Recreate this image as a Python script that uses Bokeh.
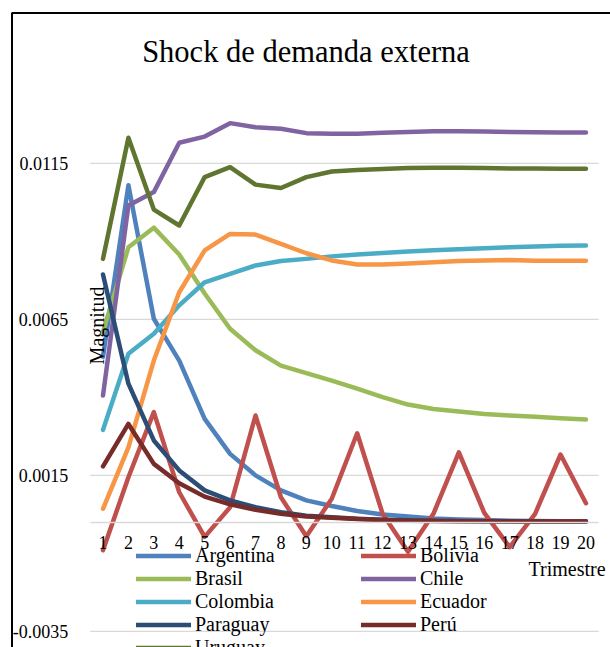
from math import pi

from bokeh.plotting import figure
from bokeh.models import (FixedTicker, Legend, LegendItem, Label, BoxAnnotation,
                          Range1d, PrintfTickFormatter)
from bokeh.embed import file_html
from bokeh.resources import INLINE

# Impulse responses to an external demand shock, by quarter
trimestres = list(range(1, 21))

argentina = [0.0053, 0.0108, 0.00652, 0.00518, 0.00331, 0.00219, 0.0015, 0.00102, 0.0007, 0.00052,
             0.00036, 0.00025, 0.00018, 0.00012, 0.00009, 0.00007, 0.00005, 0.00004, 0.00003, 0.00003]
bolivia = [-0.0009, 0.00144, 0.00353, 0.00096, -0.00047, 0.00048, 0.00342, 0.0008, -0.00045, 0.00075,
           0.00285, 0.00027, -0.00095, 0.00027, 0.00224, 0.0003, -0.0008, 0.00027, 0.00217, 0.00061]
brasil = [0.0061, 0.00881, 0.00944, 0.00858, 0.00733, 0.0062, 0.00551, 0.00502, 0.00478, 0.00454,
          0.00428, 0.00401, 0.00377, 0.00363, 0.00355, 0.00347, 0.00342, 0.00338, 0.00333, 0.00329]
chile = [0.00406, 0.01015, 0.01058, 0.01216, 0.01236, 0.01279, 0.01266, 0.01261, 0.01247, 0.01245,
         0.01245, 0.01248, 0.01251, 0.01253, 0.01253, 0.01252, 0.01251, 0.0125, 0.01249, 0.01249]
colombia = [0.00296, 0.0054, 0.00604, 0.00695, 0.00769, 0.00796, 0.00823, 0.00837, 0.00844, 0.00852,
            0.00858, 0.00863, 0.00868, 0.00872, 0.00875, 0.00878, 0.00881, 0.00884, 0.00886, 0.00887]
ecuador = [0.00043, 0.0024, 0.00518, 0.00737, 0.00871, 0.00924, 0.00922, 0.00892, 0.00862, 0.00839,
           0.00826, 0.00826, 0.00829, 0.00833, 0.00837, 0.00839, 0.0084, 0.00838, 0.00838, 0.00838]
paraguay = [0.00794, 0.00444, 0.00262, 0.00166, 0.00102, 0.0007, 0.00048, 0.00032, 0.00021, 0.00016,
            0.00011, 0.00008, 0.00006, 0.00005, 0.00004, 0.00003, 0.00003, 0.00002, 0.00002, 0.00002]
peru = [0.00179, 0.00315, 0.00187, 0.00125, 0.00082, 0.00057, 0.0004, 0.00027, 0.00018, 0.00014,
        0.0001, 0.00007, 0.00005, 0.00004, 0.00003, 0.00003, 0.00002, 0.00002, 0.00002, 0.00002]
uruguay = [0.00844, 0.01232, 0.01002, 0.00951, 0.01106, 0.01138, 0.01082, 0.01071, 0.01106, 0.01124,
           0.01129, 0.01132, 0.01135, 0.01136, 0.01136, 0.01135, 0.01134, 0.01134, 0.01133, 0.01133]

paises = ["Argentina", "Bolivia", "Brasil", "Chile", "Colombia", "Ecuador", "Paraguay", "Perú", "Uruguay"]
series = [argentina, bolivia, brasil, chile, colombia, ecuador, paraguay, peru, uruguay]
colores = ["#4F81BD", "#C0504D", "#9BBB59", "#8064A2", "#4BACC6", "#F79646", "#2C4D75", "#772C2A", "#5F7530"]

y_ticks = [-0.0035, 0.0015, 0.0065, 0.0115]

SERIF = "Liberation Serif"
W, H = 610, 647

# the plotting frame fills the whole canvas; both axes sit at fixed locations
p = figure(width=W, height=H, output_backend="svg", toolbar_location=None,
           x_range=Range1d(-3.032, 20.966), y_range=Range1d(-0.004016, 0.016721),
           min_border=0, background_fill_color="white", border_fill_color="white")
p.outline_line_color = None
p.title.visible = False
p.grid.visible = False

# category axis crossing the value axis at zero
xa = p.xaxis[0]
xa.fixed_location = 0
xa.bounds = (0.5, 20.5)
xa.ticker = FixedTicker(ticks=trimestres)
xa.axis_line_color = "#D9D9D9"
xa.axis_line_width = 1.3
xa.major_tick_line_color = None
xa.minor_tick_line_color = None
xa.major_label_standoff = 8
xa.major_label_text_font = SERIF
xa.major_label_text_font_size = "18px"
xa.major_label_text_color = "black"

ya = p.yaxis[0]
ya.fixed_location = 0.5
ya.ticker = FixedTicker(ticks=y_ticks)
ya.formatter = PrintfTickFormatter(format="%.4f")
ya.axis_line_color = None
ya.major_tick_line_color = None
ya.minor_tick_line_color = None
ya.major_label_standoff = 16
ya.major_label_text_font = SERIF
ya.major_label_text_font_size = "18px"
ya.major_label_text_color = "black"

# horizontal gridlines across the category span
p.segment(x0=[0.5] * len(y_ticks), x1=[20.5] * len(y_ticks), y0=y_ticks, y1=y_ticks,
          line_color="#D9D9D9", line_width=1.3)

items = []
for nombre, valores, color in zip(paises, series, colores):
    r = p.line(trimestres, valores, line_color=color, line_width=4.5,
               line_cap="round", line_join="round")
    items.append(LegendItem(label=nombre, renderers=[r]))

legend = Legend(items=items, ncols=2, orientation="horizontal", location=(136, -12),
                padding=0, margin=0, spacing=-1, border_line_color=None,
                background_fill_alpha=0, glyph_width=55, glyph_height=21,
                label_width=166, label_height=21, label_standoff=4,
                label_text_font=SERIF, label_text_font_size="20px", label_text_color="black")
p.add_layout(legend)

# chart-area border (left and top edges)
p.add_layout(BoxAnnotation(left=11.5, right=W + 100, top=H - 12.5, bottom=-100,
                           left_units="screen", right_units="screen",
                           top_units="screen", bottom_units="screen",
                           fill_alpha=0, fill_color=None, line_color="black",
                           line_alpha=1.0, line_width=2))

p.add_layout(Label(x=305.5, y=H - 51, x_units="screen", y_units="screen",
                   text="Shock de demanda externa", text_align="center",
                   text_baseline="alphabetic", text_font=SERIF,
                   text_font_size="30.5px", text_color="black"))
p.add_layout(Label(x=96, y=H - 325, x_units="screen", y_units="screen", angle=pi / 2,
                   text="Magnitud", text_align="center", text_baseline="middle",
                   text_font=SERIF, text_font_size="20px", text_color="black"))
p.add_layout(Label(x=528, y=H - 568, x_units="screen", y_units="screen",
                   text="Trimestre", text_align="left", text_baseline="middle",
                   text_font=SERIF, text_font_size="20px", text_color="black"))

open("out.html", "w").write(file_html(p, INLINE))
